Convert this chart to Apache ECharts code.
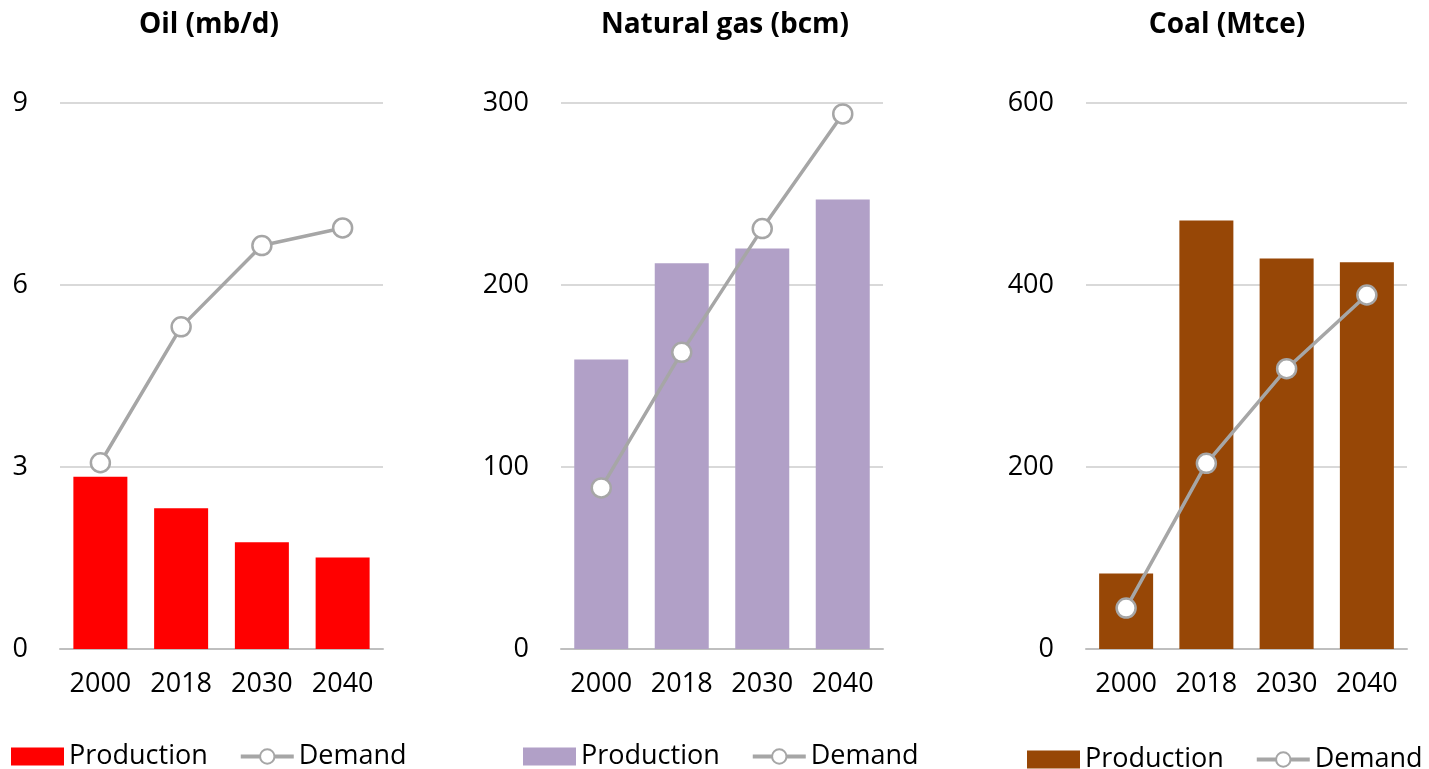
<!DOCTYPE html>
<html>
<head>
<meta charset="utf-8">
<script src="https://cdn.jsdelivr.net/npm/echarts@6/dist/echarts.min.js"></script>
<style>
html,body{margin:0;padding:0;background:#fff;}
#chart{width:1429px;height:769px;}
</style>
</head>
<body>
<div id="chart"></div>
<script>
const years = ['2000', '2018', '2030', '2040'];
const oilProduction = [2.84, 2.32, 1.76, 1.51];
const oilDemand = [3.07, 5.31, 6.65, 6.94];
const gasProduction = [159, 212, 220, 247];
const gasDemand = [88.5, 163, 231, 294];
const coalProduction = [83, 471, 429, 425];
const coalDemand = [45, 204, 308, 389];
const panelTitles = ['Oil (mb/d)', 'Natural gas (bcm)', 'Coal (Mtce)'];
const yMax = [9, 300, 600];
const yStep = [3, 100, 200];

const FONT = 'Open Sans';
const colors = ['#ff0000', '#b1a0c7', '#974706'];
const lineColor = '#a6a6a6';
const prods = [oilProduction, gasProduction, coalProduction];
const dems = [oilDemand, gasDemand, coalDemand];
const keys = ['Oil', 'Gas', 'Coal'];

const grids = [
  {left: 60, width: 323, top: 103, height: 546},
  {left: 561, width: 322, top: 103, height: 546},
  {left: 1086, width: 321, top: 103, height: 546}
];
const titleCenters = [204, 720, 1222];
const legendLefts = [11, 523, 1027];
const legendTops = [743, 743, 746];

const option = {
  animation: false,
  textStyle: {fontFamily: FONT},
  title: panelTitles.map((t, i) => ({
    text: t, left: titleCenters[i], top: 6, textAlign: 'center',
    textStyle: {fontFamily: FONT, fontSize: 28, fontWeight: 'bold', color: '#000'}
  })),
  grid: grids,
  xAxis: grids.map((g, i) => ({
    type: 'category', gridIndex: i, data: years,
    axisLine: {lineStyle: {color: '#bfbfbf', width: 2}},
    axisTick: {show: false},
    axisLabel: {fontSize: 27, color: '#000', margin: 22, fontFamily: FONT, interval: 0}
  })),
  yAxis: grids.map((g, i) => ({
    type: 'value', gridIndex: i, min: 0, max: yMax[i], interval: yStep[i],
    axisLine: {show: false}, axisTick: {show: false},
    axisLabel: {fontSize: 27, color: '#000', margin: 32, fontFamily: FONT},
    splitLine: {lineStyle: {color: '#d9d9d9', width: 2}}
  })),
  legend: keys.map((k, i) => ({
    left: legendLefts[i], top: legendTops[i], orient: 'horizontal', padding: 0,
    itemWidth: 53, itemHeight: 18, itemGap: 31,
    data: [{name: k + ' Production', icon: 'rect'}, {name: k + ' Demand'}],
    formatter: n => n.split(' ')[1],
    lineStyle: {width: 4},
    textStyle: {fontSize: 27, color: '#000', fontFamily: FONT}
  })),
  series: []
};

keys.forEach((k, i) => {
  option.series.push({
    name: k + ' Production', type: 'bar', xAxisIndex: i, yAxisIndex: i,
    data: prods[i], barWidth: 54,
    itemStyle: {color: colors[i]}
  });
  option.series.push({
    name: k + ' Demand', type: 'line', xAxisIndex: i, yAxisIndex: i,
    data: dems[i], symbol: 'circle', symbolSize: 19,
    lineStyle: {color: lineColor, width: 3.5},
    itemStyle: {color: '#ffffff', borderColor: lineColor, borderWidth: 2.5},
    z: 5
  });
});

const chart = echarts.init(document.getElementById('chart'), null, {renderer: 'canvas'});
chart.setOption(option);
</script>
</body>
</html>
